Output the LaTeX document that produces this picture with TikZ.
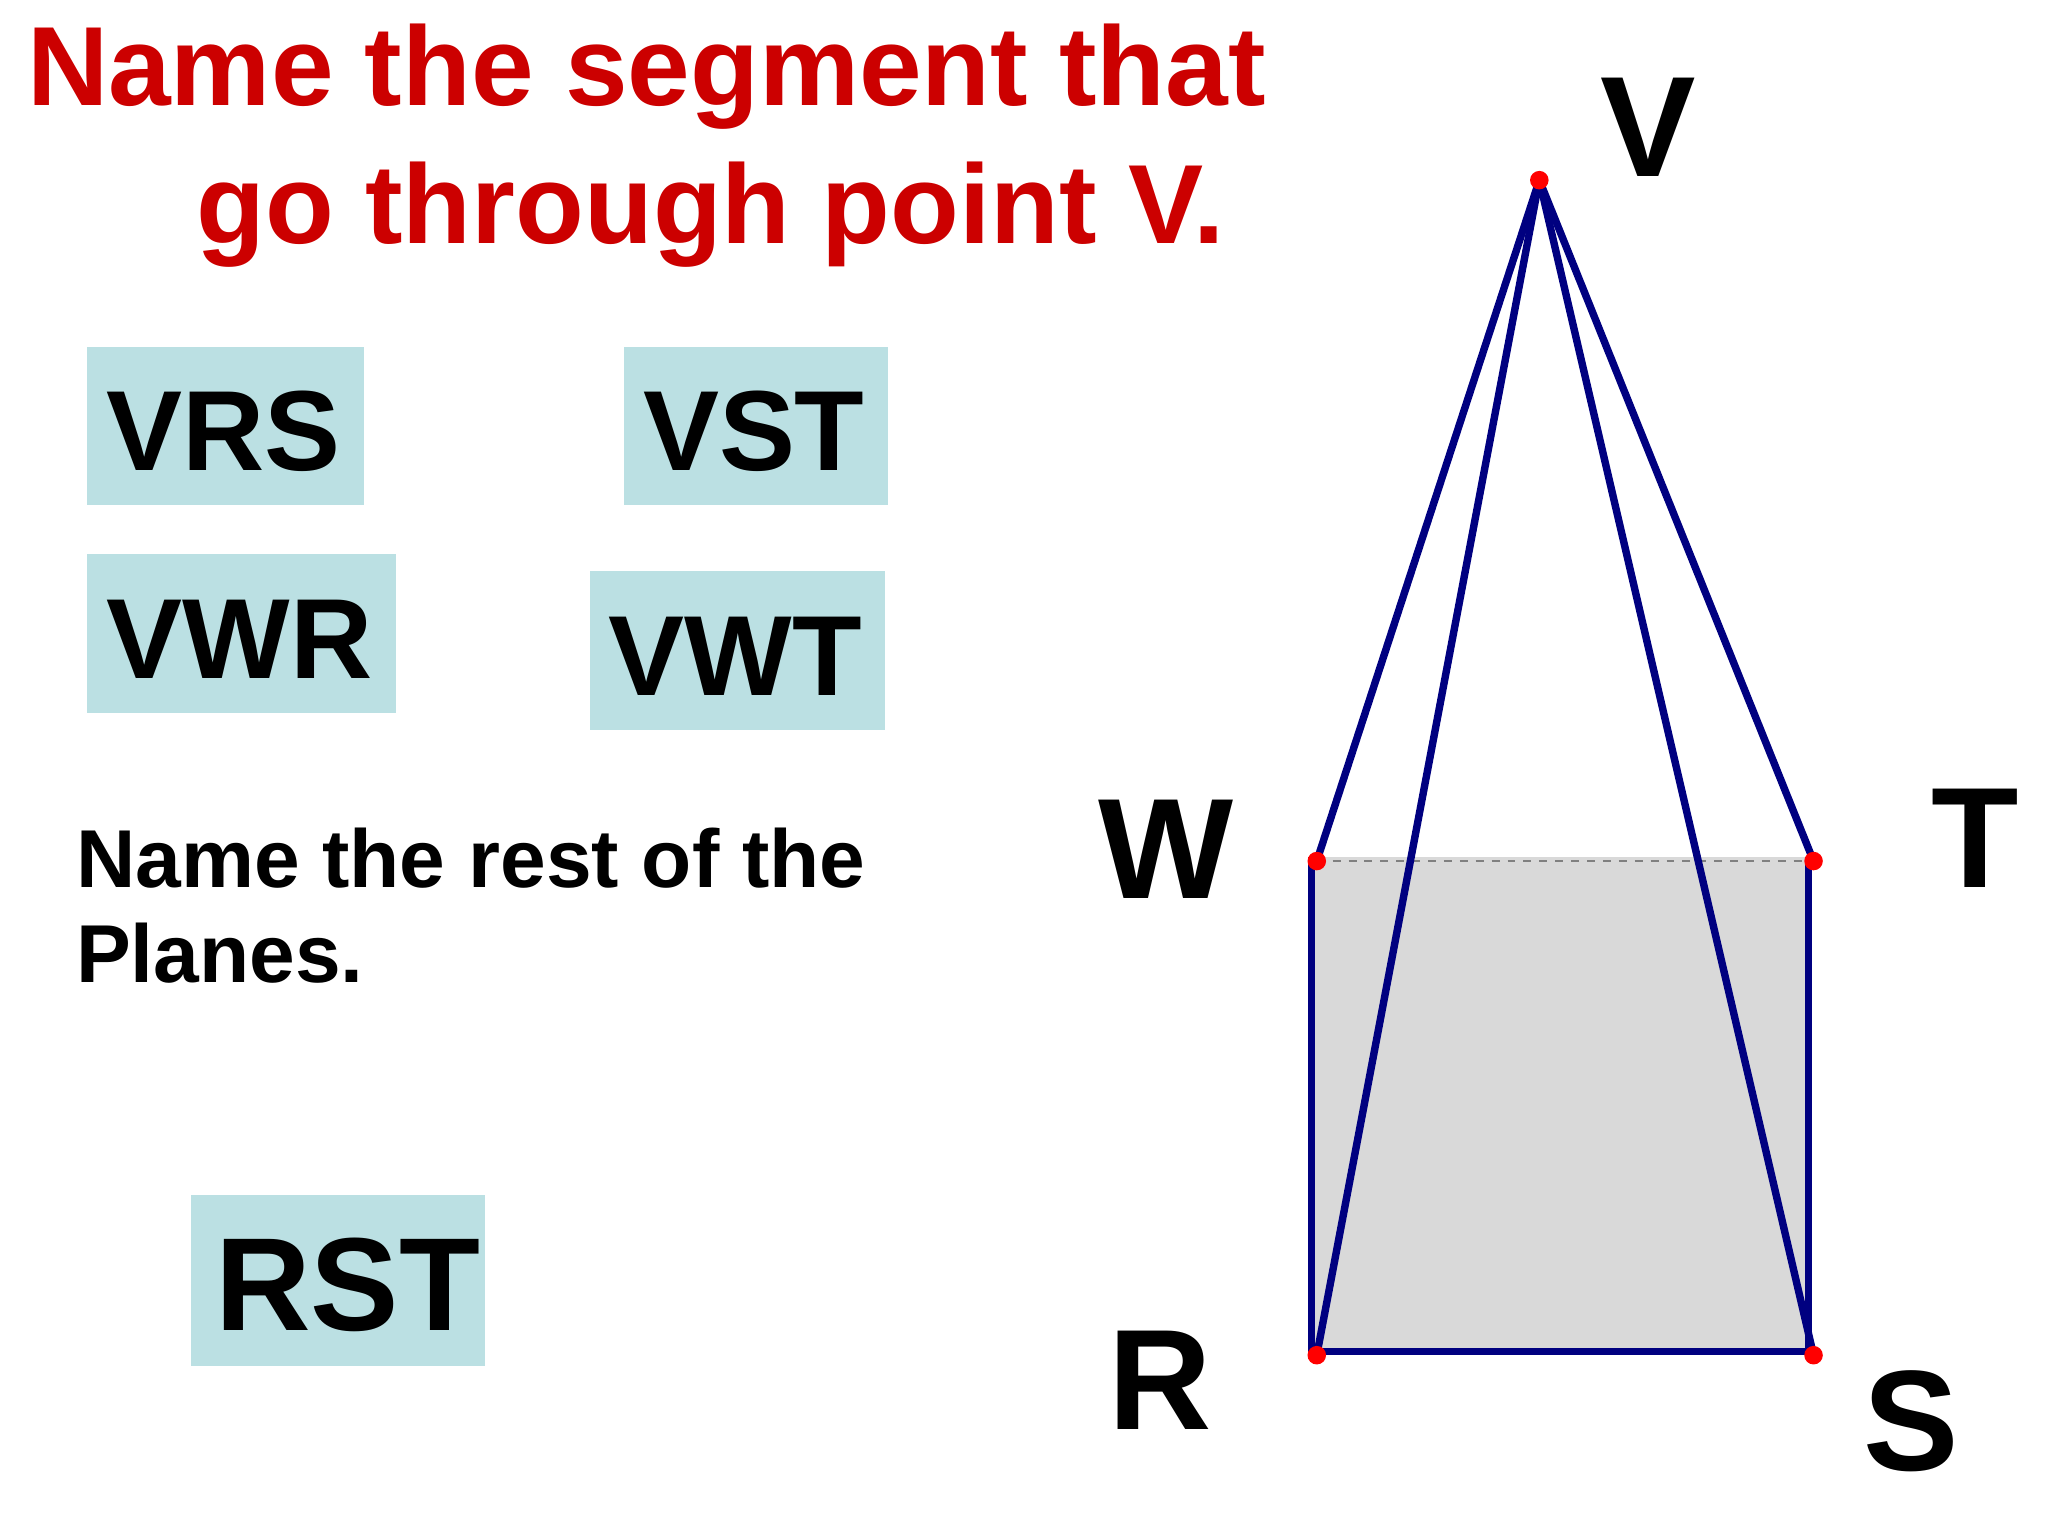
\documentclass[tikz,border=0pt]{standalone}
\usepackage{fontspec}
\setmainfont{Liberation Sans}
\definecolor{boxc}{HTML}{BBE0E3}
\definecolor{navy}{HTML}{000080}
\definecolor{titlered}{HTML}{CC0000}
\begin{document}
\begin{tikzpicture}[x=0.5pt,y=-0.5pt,
  ans/.style={anchor=base west,inner sep=0pt,font=\bfseries\fontsize{43}{50}\selectfont},
  lbl/.style={font=\bfseries\fontsize{54}{60}\selectfont,inner sep=0pt},
  ttl/.style={anchor=base west,inner sep=0pt,text=titlered,font=\bfseries\fontsize{42.5}{50}\selectfont},
  edge/.style={navy,line width=2.8pt},
  pt/.style={circle,fill=red,inner sep=0pt,minimum size=7pt}]
\useasboundingbox (0,0) rectangle (1546,1160);
\fill[white] (0,0) rectangle (1546,1160);
\node[ttl] (t1) at (20,80) {Name the segment that};
\node[ttl] (t2) at (148,184) {go through point V.};
% answer boxes
\fill[boxc] (66,262) rectangle (275,381);
\node[ans] (b1) at (80,355) {VRS};
\fill[boxc] (471,262) rectangle (670,381);
\node[ans] (b2) at (485,355) {VST};
\fill[boxc] (66,418) rectangle (299,538);
\node[ans] (b3) at (80,512) {VWR};
\fill[boxc] (445,431) rectangle (668,551);
\node[ans] (b4) at (459,525) {VWT};
\fill[boxc] (144,902) rectangle (366,1031);
\node[ans,font=\bfseries\fontsize{50}{58}\selectfont] (b5) at (162,1004) {RST};
% text
\node[anchor=base west,inner sep=0pt,font=\bfseries\fontsize{31}{40}\selectfont] (txt1) at (57,670) {Name the rest of the};
\node[anchor=base west,inner sep=0pt,font=\bfseries\fontsize{31}{40}\selectfont] (txt2) at (57,742) {Planes.};
% pyramid
\coordinate (V) at (1162,136);
\coordinate (W) at (994,650);
\coordinate (T) at (1369,650);
\coordinate (R) at (994,1023);
\coordinate (S) at (1369,1023);
\fill[gray!30] (990,647) rectangle (1365,1020);
\draw[gray,dashed,line width=0.6pt] (W) -- (T);
\draw[edge] (990,647) -- (990,1020) -- (1365,1020) -- (1365,647);
\draw[edge] (V) -- (W);
\draw[edge] (V) -- (T);
\draw[edge] (V) -- (R);
\draw[edge] (V) -- (S);
\foreach \p in {V,W,T,R,S} \node[pt] at (\p) {};
\node[lbl,anchor=base] (lV) at (1244,133) {V};
\node[lbl,anchor=base] (lW) at (880,678) {W};
\node[lbl,anchor=base] (lT) at (1491,670) {T};
\node[lbl,anchor=base] (lR) at (876,1079) {R};
\node[lbl,anchor=base] (lS) at (1443,1110) {S};
\end{tikzpicture}
\end{document}
